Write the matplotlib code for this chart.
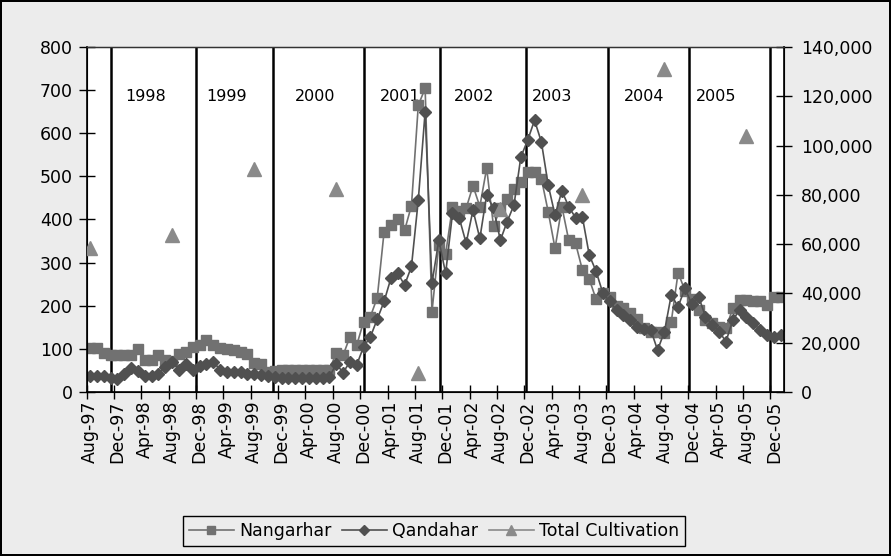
import matplotlib.pyplot as plt
import matplotlib.ticker as mticker
import numpy as np

plt.rcParams['font.family'] = ['DejaVu Sans']

# monthly prices, Aug-97 .. Jan-06 (left axis)
nangarhar = [101, 101, 90, 86, 86, 86, 86, 99, 74, 73, 86, 75, 72, 88, 93, 105,
             110, 120, 108, 103, 100, 97, 93, 87, 67, 66, 47, 48, 50, 50, 50, 50,
             50, 50, 50, 52, 90, 85, 128, 109, 163, 175, 219, 372, 388, 400, 375, 432,
             665, 704, 186, 340, 320, 430, 420, 426, 478, 430, 519, 384, 426, 447, 470, 488,
             510, 511, 495, 418, 333, 430, 352, 345, 283, 262, 215, 229, 221, 200, 194, 182,
             170, 148, 140, 140, 136, 163, 277, 235, 215, 190, 167, 160, 151, 148, 194, 213,
             213, 212, 210, 202, 221, 221]
qandahar = [36, 36, 36, 33, 30, 41, 55, 48, 36, 36, 41, 59, 70, 52, 65, 52,
            60, 65, 70, 52, 47, 47, 47, 41, 41, 39, 36, 35, 33, 33, 32, 32,
            32, 33, 33, 35, 65, 45, 70, 63, 105, 128, 169, 210, 264, 275, 248, 291,
            445, 650, 252, 352, 275, 414, 403, 345, 422, 356, 457, 426, 352, 395, 434, 545,
            584, 630, 580, 480, 410, 466, 430, 404, 406, 318, 280, 229, 210, 190, 179, 167,
            150, 146, 144, 97, 140, 225, 198, 240, 204, 221, 175, 155, 140, 117, 167, 190,
            175, 159, 144, 132, 128, 132]

# total cultivation (ha, right axis), one value per year in August
cult_month = [0, 12, 24, 36, 48, 60, 72, 84, 96]
cult_value = [58416, 63674, 90583, 82171, 7606, 74100, 80000, 131000, 104000]

tick_labels = ['Aug-97', 'Dec-97', 'Apr-98', 'Aug-98', 'Dec-98', 'Apr-99', 'Aug-99',
               'Dec-99', 'Apr-00', 'Aug-00', 'Dec-00', 'Apr-01', 'Aug-01', 'Dec-01',
               'Apr-02', 'Aug-02', 'Dec-02', 'Apr-03', 'Aug-03', 'Dec-03', 'Apr-04',
               'Aug-04', 'Dec-04', 'Apr-05', 'Aug-05', 'Dec-05']

years = ['1998', '1999', '2000', '2001', '2002', '2003', '2004', '2005']
year_label_pos = [8.1, 20.0, 32.9, 45.3, 56.1, 67.5, 81.1, 91.5]
year_lines = [3.0, 15.45, 26.7, 40.0, 51.15, 63.7, 75.8, 87.55, 99.5]

n = len(nangarhar)
x = np.arange(n)
cult = np.full(n, np.nan)
cult[cult_month] = cult_value

c_n = '#717171'
c_q = '#505050'
c_t = '#8a8a8a'

fig = plt.figure(figsize=(8.91, 5.56), dpi=100, facecolor='#ececec',
                 edgecolor='black', linewidth=1.5)
ax = fig.add_axes([0.0973, 0.295, 0.7827, 0.6205])
ax.set_facecolor('white')

ln1, = ax.plot(x, nangarhar, color=c_n, marker='s', markersize=7.5, lw=1.2,
               label='Nangarhar', zorder=3)
ln2, = ax.plot(x, qandahar, color=c_q, marker='D', markersize=6.5, lw=1.2,
               label='Qandahar', zorder=4)

for p in year_lines:
    ax.axvline(p, color='black', lw=1.8, zorder=2)
for yr, p in zip(years, year_label_pos):
    ax.text(p, 685, yr, ha='center', va='center', fontsize=11.5, zorder=1)

ax.set_xlim(-0.5, n - 0.5)
ax.set_ylim(0, 800)
ax.set_yticks(range(0, 801, 100))
ax.set_xticks(np.arange(-0.5, n, 4))
ax.set_xticklabels([])
ax.set_xticks(np.arange(0, n, 4)[:len(tick_labels)], minor=True)
ax.set_xticklabels(tick_labels, minor=True, rotation=90, fontsize=12.5)
ax.tick_params(axis='x', which='minor', length=0, pad=6)
ax.tick_params(axis='x', which='major', direction='inout', length=10, width=1)
ax.tick_params(axis='y', direction='inout', length=12, width=1, labelsize=12.5, pad=4)
for s in ['left', 'bottom']:
    ax.spines[s].set_linewidth(1.2)
ax.spines['top'].set_color('#333333')
ax.spines['top'].set_linewidth(1)

ax2 = ax.twinx()
ln3, = ax2.plot(x, cult, color=c_t, marker='^', markersize=10, lw=1.2,
                label='Total Cultivation', zorder=5)
ax2.set_ylim(0, 140000)
ax2.set_yticks(range(0, 140001, 20000))
ax2.yaxis.set_major_formatter(mticker.FuncFormatter(lambda v, p: f'{int(v):,}'))
ax2.tick_params(axis='y', direction='inout', length=12, width=1, labelsize=12.5, pad=6)
ax2.spines['right'].set_linewidth(1.2)
ax2.spines['top'].set_color('#333333')

leg = fig.legend(handles=[ln1, ln2, ln3], loc='center', bbox_to_anchor=(0.487, 0.045),
                 ncol=3, fontsize=12.5, frameon=True, fancybox=False, edgecolor='black',
                 facecolor='#ececec', framealpha=1, handlelength=2.6, columnspacing=0.6,
                 handletextpad=0.3, borderpad=0.35, markerscale=0.75)
leg.get_frame().set_linewidth(1)

fig.savefig('out.png', dpi=100, facecolor=fig.get_facecolor(), edgecolor='black')
